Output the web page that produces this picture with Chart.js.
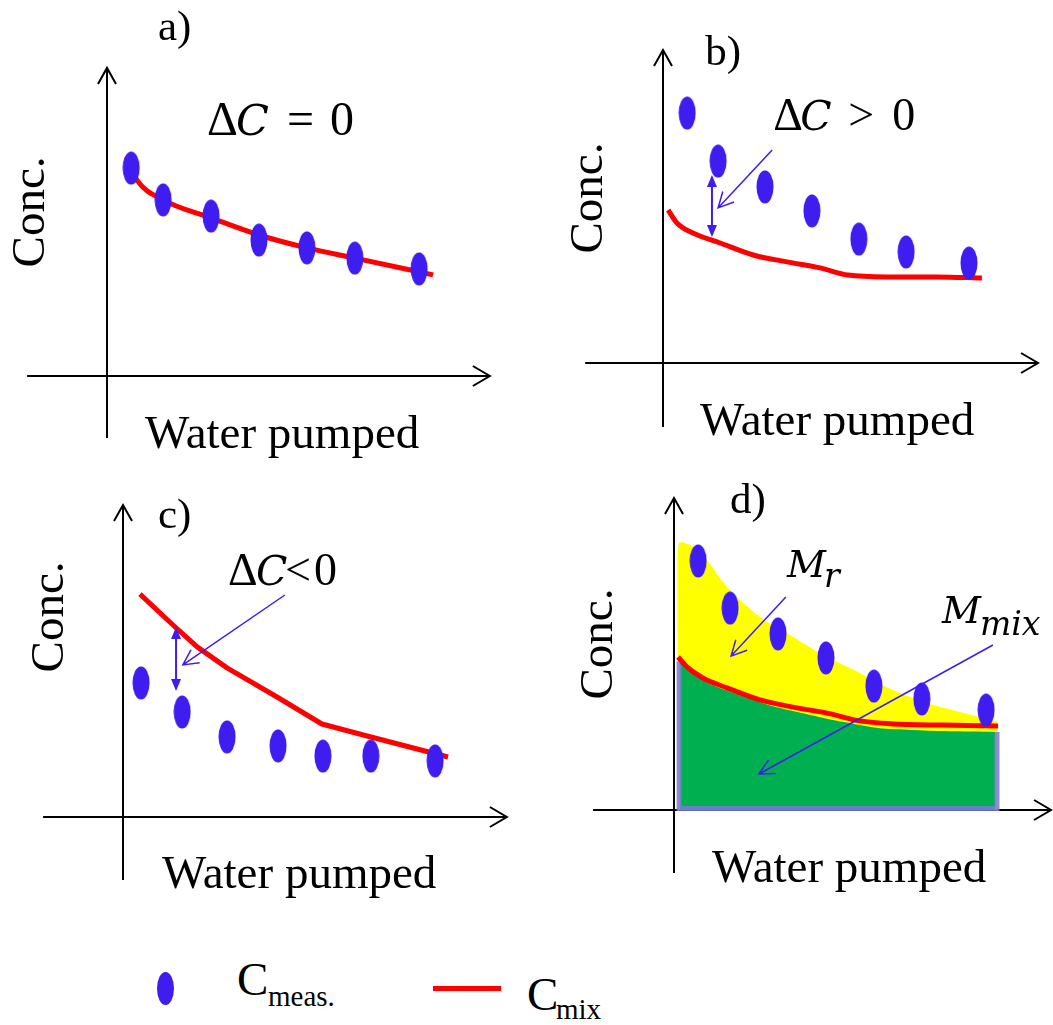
<!DOCTYPE html>
<html>
<head>
<meta charset="utf-8">
<script src="https://cdn.jsdelivr.net/npm/chart.js@4.4.1/dist/chart.umd.min.js"></script>
<style>
  html, body { margin: 0; padding: 0; background: #fff; }
  #wrap { position: relative; width: 1053px; height: 1025px; overflow: hidden; }
  canvas { position: absolute; }
  .lg { position: absolute; font-family: 'Liberation Serif', 'Times New Roman', serif; color: #000; line-height: 1; white-space: nowrap; }
</style>
</head>
<body>
<div id="wrap">
  <canvas id="pa" width="526" height="470" style="left:0;top:0"></canvas>
  <canvas id="pb" width="527" height="470" style="left:526px;top:0"></canvas>
  <canvas id="pc" width="526" height="460" style="left:0;top:470px"></canvas>
  <canvas id="pd" width="527" height="460" style="left:526px;top:470px"></canvas>

  <!-- legend -->
  <div style="position:absolute;left:157px;top:972px;width:17px;height:33px;border-radius:50%;background:#3f1cf0"></div>
  <div class="lg" style="left:237px;top:956px;font-size:47px">C</div>
  <div class="lg" style="left:268px;top:982px;font-size:29px">meas.</div>
  <div style="position:absolute;left:433px;top:986px;width:68px;height:5px;background:#ff0000"></div>
  <div class="lg" style="left:527px;top:971px;font-size:47px">C</div>
  <div class="lg" style="left:556px;top:995px;font-size:29px">mix</div>
</div>
<script>
// Концентрация vs откачанный объём, 4 случая (условные единицы 0..10)

// a) ΔC = 0
const aMeasX = [0.71, 1.65, 3.06, 4.47, 5.88, 7.29, 9.18];
const aMeasY = [6.93, 5.87, 5.33, 4.53, 4.27, 3.93, 3.57];
const aMixX = [0.56, 0.88, 1.65, 3.06, 4.47, 5.88, 7.29, 9.59];
const aMixY = [7.3, 6.53, 5.87, 5.27, 4.7, 4.27, 3.93, 3.37];

// b) ΔC > 0
const bMeasX = [0.71, 1.62, 3.0, 4.38, 5.76, 7.15, 9.0];
const bMeasY = [8.33, 6.73, 5.87, 5.07, 4.13, 3.7, 3.33];
const bMixX = [0.15, 0.41, 0.88, 1.68, 2.65, 3.65, 4.62, 5.44, 6.59, 8.06, 9.38];
const bMixY = [5.1, 4.67, 4.33, 4.0, 3.6, 3.37, 3.17, 2.93, 2.87, 2.87, 2.83];

// c) ΔC < 0
const cMeasX = [0.53, 1.74, 3.06, 4.56, 5.88, 7.29, 9.18];
const cMeasY = [4.47, 3.5, 2.67, 2.37, 2.03, 2.03, 1.87];
const cMixX = [0.5, 1.47, 2.18, 3.06, 4.53, 5.85, 7.18, 9.56];
const cMixY = [7.43, 6.4, 5.67, 4.97, 4.0, 3.1, 2.7, 2.0];

// d) M_r / M_mix
const dMeasX = [0.71, 1.65, 3.06, 4.47, 5.88, 7.29, 9.18];
const dMeasY = [8.3, 6.73, 5.87, 5.07, 4.13, 3.7, 3.33];
const dMixX = [0.12, 0.38, 0.85, 1.56, 2.53, 3.5, 4.5, 5.47, 6.44, 7.91, 9.53];
const dMixY = [5.1, 4.77, 4.4, 4.07, 3.67, 3.43, 3.23, 2.97, 2.87, 2.83, 2.8];
// верхняя граница жёлтой области (M_r)
const dBandX = [0.1, 0.14, 0.7, 0.97, 1.56, 2.53, 3.5, 4.5, 5.47, 6.44, 7.44, 8.41, 9.5];
const dBandY = [5.3, 8.87, 8.7, 8.33, 7.43, 6.43, 5.77, 5.1, 4.57, 4.0, 3.57, 3.27, 2.95];
// верхняя граница зелёной области (M_mix)
const dAreaX = [0.18, 0.5, 1.0, 2.0, 3.0, 4.0, 5.0, 6.0, 7.0, 8.0, 9.45];
const dAreaY = [4.93, 4.6, 4.23, 3.8, 3.43, 3.17, 2.93, 2.73, 2.67, 2.63, 2.6];
// контур зелёной области
const dEdgeX = [0.15, 0.15, 9.5, 9.5];
const dEdgeY = [4.95, 0.05, 0.05, 2.6];

const SERIF = "'Liberation Serif', 'Times New Roman', serif";
const MATH = "'DejaVu Serif', serif";
const BLUE = '#3f1cf0';
const RED = '#ff0000';

function pts(xs, ys) {
    return xs.map((x, i) => ({ x: x, y: ys[i] }));
}

// Эллиптический маркер для точек
function ellipseMark(w, h, color) {
    const c = document.createElement('canvas');
    c.width = w;
    c.height = h;
    const g = c.getContext('2d');
    g.fillStyle = color;
    g.beginPath();
    g.ellipse(w / 2, h / 2, w / 2 - 0.5, h / 2 - 0.5, 0, 0, Math.PI * 2);
    g.fill();
    return c;
}
const dotMark = ellipseMark(18, 34, BLUE);

function measSet(xs, ys) {
    return {
        data: pts(xs, ys), showLine: false, pointStyle: dotMark,
        pointRadius: 9, borderWidth: 0, clip: false
    };
}

function mixSet(xs, ys, tension) {
    return {
        data: pts(xs, ys), borderColor: RED, borderWidth: 5, pointRadius: 0,
        tension: tension, cubicInterpolationMode: tension > 0 ? 'monotone' : 'default',
        borderCapStyle: 'butt', borderJoinStyle: 'round', fill: false, clip: false
    };
}

// Подписи и стрелки
function drawRuns(ctx, x0, y0, runs) {
    for (const r of runs) {
        ctx.font = (r.it ? 'italic ' : '') + r.size + 'px ' + (r.it ? MATH : SERIF);
        ctx.fillText(r.t, x0 + r.dx, y0 + (r.dy || 0));
    }
}

function doubleArrow(ctx, x, y1, y2) {
    ctx.strokeStyle = BLUE;
    ctx.fillStyle = BLUE;
    ctx.lineWidth = 2;
    ctx.beginPath();
    ctx.moveTo(x, y1 + 8);
    ctx.lineTo(x, y2 - 8);
    ctx.stroke();
    ctx.beginPath();
    ctx.moveTo(x, y1); ctx.lineTo(x - 5, y1 + 12); ctx.lineTo(x + 5, y1 + 12); ctx.closePath();
    ctx.moveTo(x, y2); ctx.lineTo(x - 5, y2 - 12); ctx.lineTo(x + 5, y2 - 12); ctx.closePath();
    ctx.fill();
}

function pointer(ctx, x1, y1, x2, y2) {
    const a = Math.atan2(y1 - y2, x1 - x2);
    const len = 17, sp = 0.47;
    ctx.strokeStyle = BLUE;
    ctx.lineWidth = 1.5;
    ctx.beginPath();
    ctx.moveTo(x1, y1);
    ctx.lineTo(x2, y2);
    ctx.moveTo(x2 + len * Math.cos(a + sp), y2 + len * Math.sin(a + sp));
    ctx.lineTo(x2, y2);
    ctx.lineTo(x2 + len * Math.cos(a - sp), y2 + len * Math.sin(a - sp));
    ctx.stroke();
}

function makeDecor(p) {
    return {
        id: 'decor_' + p.tag,
        beforeDatasetsDraw(chart) {
            const ctx = chart.ctx;
            const sx = chart.scales.x, sy = chart.scales.y;
            const ox = sx.getPixelForValue(0), oy = sy.getPixelForValue(0);
            const xl = sx.getPixelForValue(p.xAxis[0]), xr = sx.getPixelForValue(p.xAxis[1]);
            const yb = sy.getPixelForValue(p.yAxis[0]), yt = sy.getPixelForValue(p.yAxis[1]);
            ctx.save();
            ctx.strokeStyle = '#000';
            ctx.lineWidth = 2;
            ctx.beginPath();
            ctx.moveTo(xl, oy); ctx.lineTo(xr, oy);
            ctx.moveTo(ox, yb); ctx.lineTo(ox, yt);
            ctx.stroke();
            ctx.beginPath();
            ctx.moveTo(xr - 17, oy - 10); ctx.lineTo(xr, oy); ctx.lineTo(xr - 17, oy + 10);
            ctx.moveTo(ox - 9, yt + 16); ctx.lineTo(ox, yt); ctx.lineTo(ox + 9, yt + 16);
            ctx.stroke();
            ctx.restore();
        },
        afterDatasetsDraw(chart) {
            const ctx = chart.ctx;
            const sx = chart.scales.x, sy = chart.scales.y;
            const X = v => sx.getPixelForValue(v), Y = v => sy.getPixelForValue(v);
            ctx.save();
            ctx.fillStyle = '#000';
            ctx.textAlign = 'left';
            ctx.textBaseline = 'alphabetic';

            ctx.font = '43px ' + SERIF;
            ctx.fillText(p.tag + ')', X(p.tagAt[0]), Y(p.tagAt[1]));

            ctx.font = '47px ' + SERIF;
            ctx.fillText('Water pumped', X(p.waterAt[0]), Y(p.waterAt[1]));

            ctx.save();
            ctx.translate(X(p.concAt[0]), Y(p.concAt[1]));
            ctx.rotate(-Math.PI / 2);
            ctx.textAlign = 'center';
            ctx.fillText('Conc.', 0, 0);
            ctx.restore();

            for (const m of p.math) {
                drawRuns(ctx, X(m.at[0]), Y(m.at[1]), m.runs);
            }
            if (p.dbl) {
                doubleArrow(ctx, X(p.dbl[0]), Y(p.dbl[1]), Y(p.dbl[2]));
            }
            for (const q of p.pointers) {
                pointer(ctx, X(q[0]), Y(q[1]), X(q[2]), Y(q[3]));
            }
            ctx.restore();
        }
    };
}

const panels = [
    {
        tag: 'a', id: 'pa', pad: { left: 107, top: 76, right: 79, bottom: 94 },
        xAxis: [-2.35, 11.26], yAxis: [-2.07, 10.27],
        tagAt: [1.5, 11.2], concAt: [-1.85, 5.47], waterAt: [1.12, -2.4],
        math: [{ at: [2.94, 8.03], runs: [
            { t: 'Δ', size: 48, dx: 0 }, { t: 'C', it: true, size: 43, dx: 29 },
            { t: '=', size: 48, dx: 80 }, { t: '0', size: 48, dx: 123 }] }],
        dbl: null, pointers: [],
        datasets: [measSet(aMeasX, aMeasY), mixSet(aMixX, aMixY, 0.4)]
    },
    {
        tag: 'b', id: 'pb', pad: { left: 137, top: 63, right: 50, bottom: 107 },
        xAxis: [-2.29, 11.03], yAxis: [-2.13, 10.43],
        tagAt: [1.24, 9.93], concAt: [-1.79, 5.5], waterAt: [1.09, -2.4],
        math: [{ at: [3.24, 7.77], runs: [
            { t: 'Δ', size: 46, dx: 0 }, { t: 'C', it: true, size: 41, dx: 27 },
            { t: '>', size: 46, dx: 75 }, { t: '0', size: 46, dx: 119 }] }],
        dbl: [1.44, 6.27, 4.2], pointers: [[3.21, 7.1, 1.62, 5.17]],
        datasets: [measSet(bMeasX, bMeasY), mixSet(bMixX, bMixY, 0.4)]
    },
    {
        tag: 'c', id: 'pc', pad: { left: 123, top: 47, right: 63, bottom: 113 },
        xAxis: [-2.35, 11.29], yAxis: [-2.1, 10.4],
        tagAt: [1.03, 9.63], concAt: [-1.76, 6.67], waterAt: [1.15, -2.37],
        math: [{ at: [3.09, 7.73], runs: [
            { t: 'Δ', size: 46, dx: 0 }, { t: 'C', it: true, size: 41, dx: 28 },
            { t: '<', size: 46, dx: 57 }, { t: '0', size: 46, dx: 86 }] }],
        dbl: [1.56, 6.33, 4.2], pointers: [[4.76, 7.4, 1.76, 5.07]],
        datasets: [measSet(cMeasX, cMeasY), mixSet(cMixX, cMixY, 0)]
    },
    {
        tag: 'd', id: 'pd', pad: { left: 148, top: 40, right: 39, bottom: 120 },
        xAxis: [-2.38, 11.09], yAxis: [-2.1, 10.4],
        tagAt: [1.65, 9.9], concAt: [-1.82, 5.53], waterAt: [1.12, -2.4],
        math: [
            { at: [3.32, 7.77], runs: [
                { t: 'M', it: true, size: 38, dx: 0 }, { t: 'r', it: true, size: 33, dx: 37, dy: 10 }] },
            { at: [7.88, 6.23], runs: [
                { t: 'M', it: true, size: 38, dx: 0 }, { t: 'mix', it: true, size: 33, dx: 38, dy: 12 }] }
        ],
        dbl: null,
        pointers: [[3.29, 7.1, 1.68, 5.13], [9.38, 5.5, 2.5, 1.2]],
        datasets: [
            measSet(dMeasX, dMeasY),
            mixSet(dMixX, dMixY, 0.4),
            { data: pts(dEdgeX, dEdgeY), borderColor: 'rgba(120,120,225,0.85)', borderWidth: 5,
              pointRadius: 0, tension: 0, fill: false, clip: false },
            { data: pts(dAreaX, dAreaY), borderWidth: 0, borderColor: 'rgba(0,0,0,0)', pointRadius: 0,
              tension: 0.3, fill: 'origin', backgroundColor: '#00b050', clip: false },
            { data: pts(dBandX, dBandY), borderWidth: 0, borderColor: 'rgba(0,0,0,0)', pointRadius: 0,
              tension: 0.3, fill: 'origin', backgroundColor: '#ffff00', clip: false }
        ]
    }
];

for (const p of panels) {
    new Chart(document.getElementById(p.id), {
        type: 'line',
        data: { datasets: p.datasets },
        options: {
            responsive: false,
            animation: false,
            events: [],
            layout: { padding: p.pad, autoPadding: false },
            scales: {
                x: { type: 'linear', min: 0, max: 10, display: false },
                y: { type: 'linear', min: 0, max: 10, display: false }
            },
            plugins: {
                legend: { display: false },
                tooltip: { enabled: false }
            }
        },
        plugins: [makeDecor(p)]
    });
}
</script>
</body>
</html>
